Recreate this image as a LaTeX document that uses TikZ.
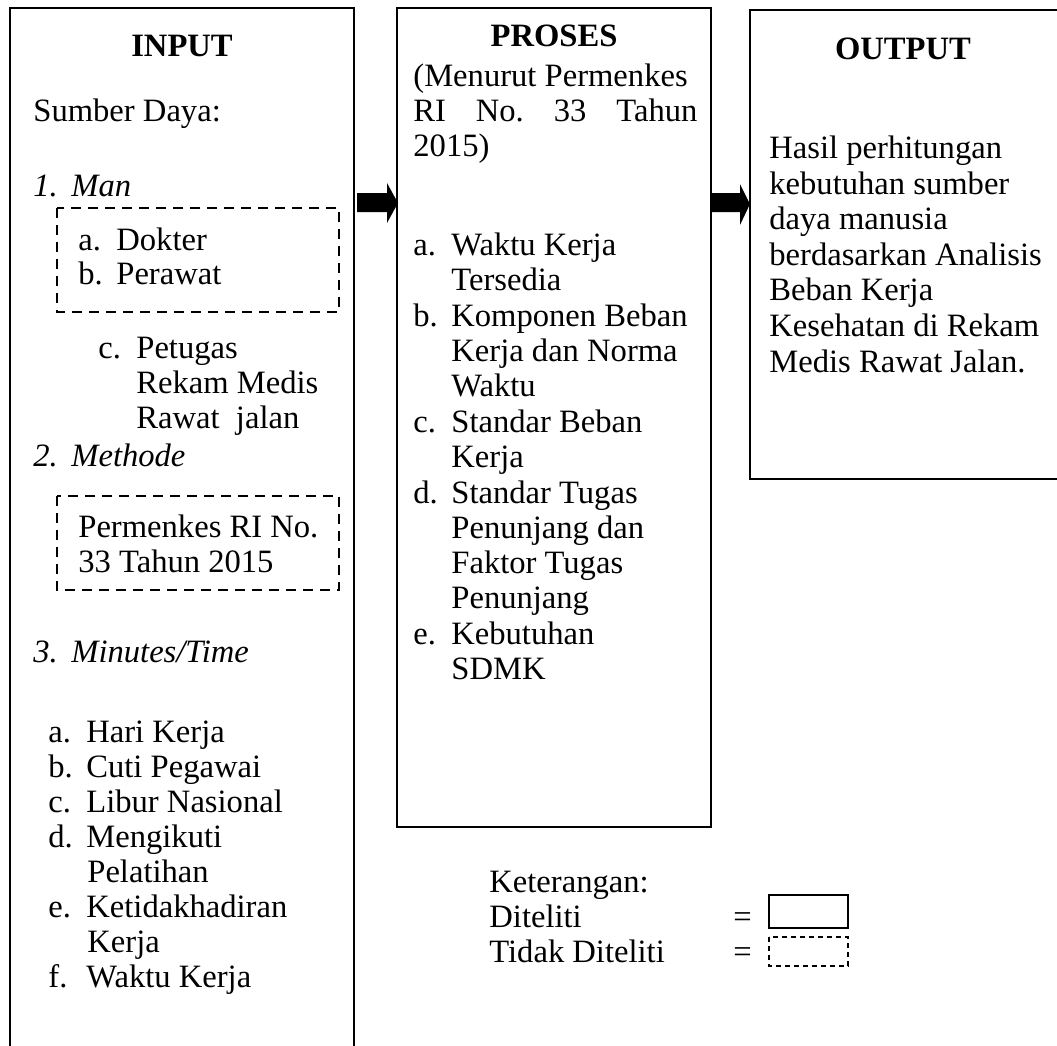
\documentclass[tikz,border=0pt]{standalone}
\usepackage{fontspec}
\setmainfont{Liberation Serif}
\frenchspacing
\newcommand{\lab}[1]{\makebox[19pt][l]{#1}}
\begin{document}
\begin{tikzpicture}[x=0.5pt,y=-0.5pt,
  txt/.style={inner sep=0pt, anchor=base west, font=\fontsize{16.3}{17.5}\selectfont},
  ttl/.style={inner sep=0pt, anchor=base, font=\fontsize{16.3}{17.5}\selectfont\bfseries},
  box/.style={draw, line width=1pt},
  dbox/.style={draw, line width=1pt, dash pattern=on 5pt off 3.5pt},
  lbox/.style={draw, line width=1pt, dash pattern=on 2.5pt off 2pt},
  arr/.style={fill=black}]
\useasboundingbox (0,0) rectangle (1057,1046);
\clip (0,0) rectangle (1057,1046);
% main boxes
\coordinate (inNW) at (10,8);   \coordinate (inSE) at (354,1100);
\coordinate (prNW) at (397,8);  \coordinate (prSE) at (711,827);
\coordinate (ouNW) at (750,10); \coordinate (ouSE) at (1080,479);
\draw[box] (inNW) rectangle (inSE);
\draw[box] (prNW) rectangle (prSE);
\draw[box] (ouNW) rectangle (ouSE);
% arrows
\fill[arr] (357,193) -- (387,193) -- (387,183) -- (398,203) -- (387,223) -- (387,212) -- (357,212) -- cycle;
\fill[arr] (711,193) -- (740,193) -- (740,184) -- (750,204) -- (740,225) -- (740,212) -- (711,212) -- cycle;
% dashed boxes in INPUT
\draw[dbox] (57,208) rectangle (339,312);
\draw[dbox] (57,496) rectangle (339,590);
% INPUT texts
\node[ttl] (tin) at (182,56) {INPUT};
\node[txt] (sd) at (33,121) {Sumber Daya:};
\node[txt] (man) at (33,196) {\lab{\itshape 1.}\itshape Man};
\node[txt] (dok) at (78,250) {\lab{a.}Dokter};
\node[txt] (per) at (78,284) {\lab{b.}Perawat};
\node[txt] (pet) at (98,358) {\lab{c.}Petugas};
\node[txt] (rek) at (136,393) {Rekam Medis};
\node[txt] (raw) at (136,428) {Rawat\ \ jalan};
\node[txt] (met) at (33,466) {\lab{\itshape 2.}\itshape Methode};
\node[txt] (pm1) at (78,537) {Permenkes RI No.};
\node[txt] (pm2) at (78,572) {33 Tahun 2015};
\node[txt] (min) at (33,662) {\lab{\itshape 3.}\itshape Minutes/Time};
\node[txt] (ia) at (48,742) {\lab{a.}Hari Kerja};
\node[txt] (ib) at (48,777) {\lab{b.}Cuti Pegawai};
\node[txt] (ic) at (48,812) {\lab{c.}Libur Nasional};
\node[txt] (id) at (48,847) {\lab{d.}Mengikuti};
\node[txt] (id2) at (87,882) {Pelatihan};
\node[txt] (ie) at (48,917) {\lab{e.}Ketidakhadiran};
\node[txt] (ie2) at (87,952) {Kerja};
\node[txt] (if) at (48,987) {\lab{f.}Waktu Kerja};
% PROSES texts
\node[ttl] (tpr) at (554,46) {PROSES};
\node[txt] (pr1) at (413,86) {(Menurut Permenkes};
\node[txt] (pr2) at (413,121) {\makebox[142pt][s]{RI No. 33 Tahun}};
\node[txt] (pr3) at (413,156) {2015)};
\node[txt] (pa) at (413,255) {\lab{a.}Waktu Kerja};
\node[txt] (pa2) at (451,290) {Tersedia};
\node[txt] (pb) at (413,326) {\lab{b.}Komponen Beban};
\node[txt] (pb2) at (451,361) {Kerja dan Norma};
\node[txt] (pb3) at (451,396) {Waktu};
\node[txt] (pc) at (413,432) {\lab{c.}Standar Beban};
\node[txt] (pc2) at (451,467) {Kerja};
\node[txt] (pd) at (413,503) {\lab{d.}Standar Tugas};
\node[txt] (pd2) at (451,538) {Penunjang dan};
\node[txt] (pd3) at (451,573) {Faktor Tugas};
\node[txt] (pd4) at (451,608) {Penunjang};
\node[txt] (pe) at (413,644) {\lab{e.}Kebutuhan};
\node[txt] (pe2) at (451,679) {SDMK};
% OUTPUT texts
\node[ttl] (tou) at (903,59) {OUTPUT};
\node[txt] (o1) at (769,158) {Hasil perhitungan};
\node[txt] (o2) at (769,194) {kebutuhan sumber};
\node[txt] (o3) at (769,229) {daya manusia};
\node[txt] (o4) at (769,265) {berdasarkan Analisis};
\node[txt] (o5) at (769,300) {Beban Kerja};
\node[txt] (o6) at (769,336) {Kesehatan di Rekam};
\node[txt] (o7) at (769,372) {Medis Rawat Jalan.};
% legend
\node[txt] (k0) at (489,892) {Keterangan:};
\node[txt] (k1) at (489,927) {Diteliti};
\node[txt] (k2) at (489,962) {Tidak Diteliti};
\node[txt] (e1) at (733,927) {=};
\node[txt] (e2) at (733,962) {=};
\draw[box] (769,895) rectangle (848,928);
\draw[lbox] (769,937) rectangle (848,966);
\end{tikzpicture}
\end{document}
